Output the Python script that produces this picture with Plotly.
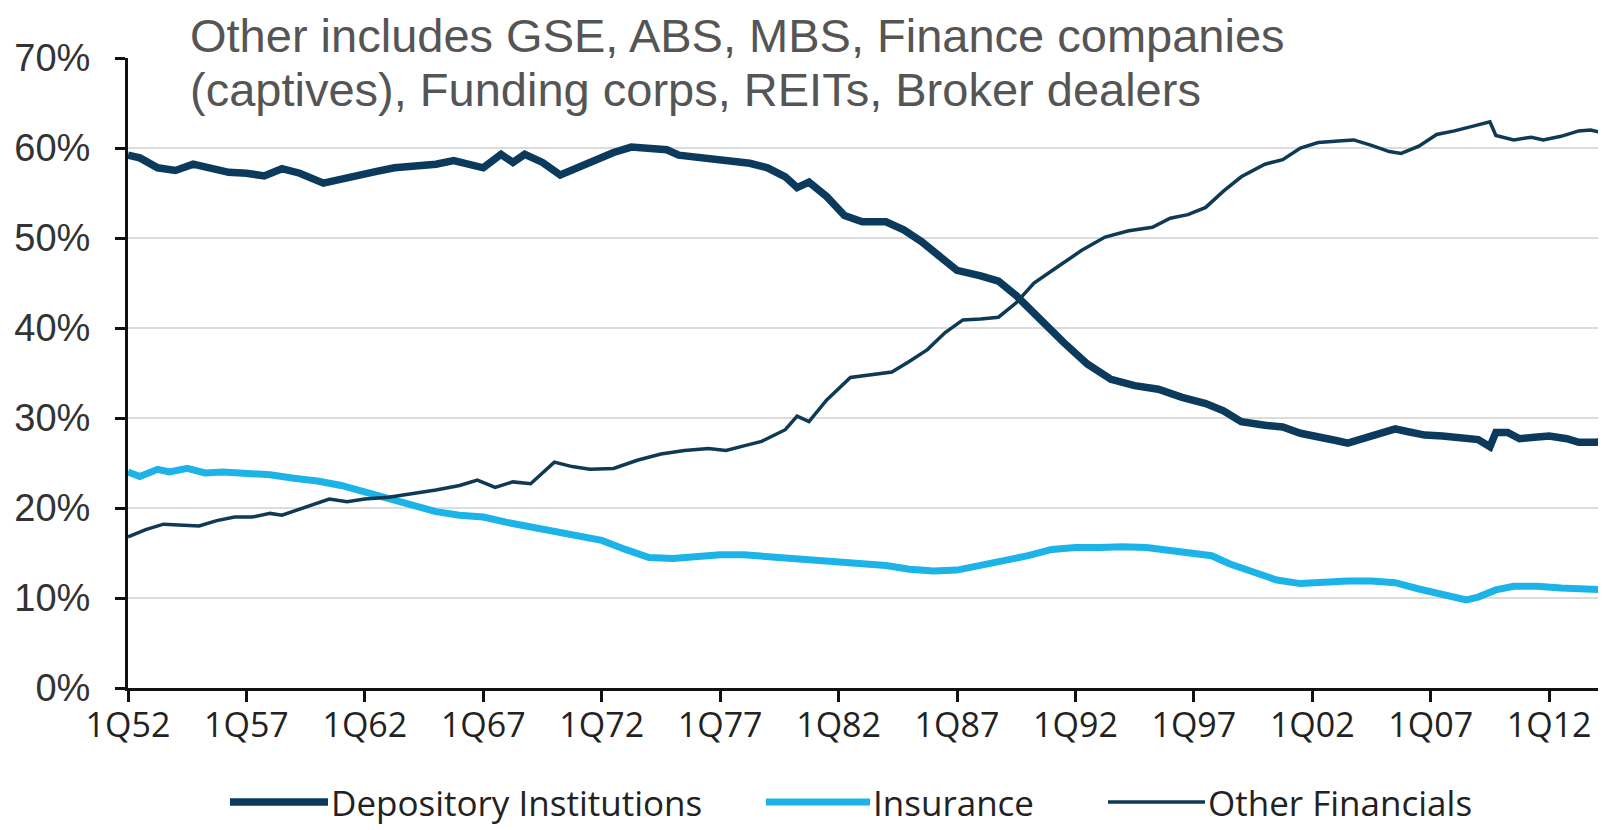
import plotly.graph_objects as go

# ---------------- data ----------------
dep_x = [1952.0, 1952.5, 1953.25, 1954.0, 1954.75, 1955.5, 1956.25, 1957.0, 1957.75, 1958.5,
         1959.25, 1960.25, 1961.0, 1961.75, 1962.5, 1963.25, 1964.25, 1965.0, 1965.75, 1966.5,
         1967.0, 1967.75, 1968.25, 1968.75, 1969.5, 1970.25, 1971.0, 1971.75, 1972.5, 1973.25,
         1974.0, 1974.75, 1975.25, 1976.0, 1976.75, 1977.5, 1978.25, 1979.0, 1979.75, 1980.25,
         1980.75, 1981.5, 1982.25, 1983.0, 1984.0, 1984.75, 1985.5, 1986.25, 1987.0, 1988.0,
         1988.75, 1989.5, 1990.5, 1991.5, 1992.5, 1993.5, 1994.5, 1995.5, 1996.5, 1997.5,
         1998.25, 1999.0, 2000.0, 2000.75, 2001.5, 2002.25, 2003.0, 2003.5, 2004.25, 2005.0,
         2005.5, 2006.0, 2006.75, 2007.5, 2008.25, 2009.0, 2009.5, 2009.75, 2010.25, 2010.75,
         2011.5, 2012.0, 2012.75, 2013.25, 2014.0, 2014.4]
dep_y = [59.2, 58.9, 57.8, 57.5, 58.2, 57.8, 57.3, 57.2, 56.9, 57.7,
         57.2, 56.1, 56.6, 57.1, 57.4, 57.8, 58.0, 58.2, 58.6, 58.0,
         57.8, 59.3, 58.4, 59.3, 58.4, 57.0, 57.8, 58.8, 59.5, 60.1,
         60.0, 59.8, 59.2, 59.0, 58.8, 58.6, 58.3, 57.8, 56.8, 55.6,
         56.2, 54.6, 52.5, 51.8, 51.8, 50.9, 49.6, 48.0, 46.4, 45.8,
         45.2, 43.6, 40.9, 38.4, 36.0, 34.3, 33.6, 33.2, 32.3, 31.6,
         30.8, 29.6, 29.2, 29.0, 28.3, 27.8, 27.5, 27.2, 27.8, 28.2,
         28.8, 28.5, 28.1, 28.0, 27.9, 27.6, 26.8, 28.4, 28.4, 27.7,
         27.9, 28.0, 27.7, 27.3, 27.3, 27.6]

ins_x = [1952.0, 1952.5, 1953.25, 1953.75, 1954.5, 1955.25, 1956.0, 1957.0, 1958.0, 1959.0,
         1960.0, 1961.0, 1962.0, 1963.0, 1964.0, 1965.0, 1966.0, 1967.0, 1968.0, 1969.0,
         1970.0, 1971.0, 1972.0, 1973.0, 1974.0, 1975.0, 1976.0, 1977.0, 1978.0, 1979.0,
         1980.0, 1981.0, 1982.0, 1983.0, 1984.0, 1985.0, 1986.0, 1987.0, 1988.0, 1989.0,
         1990.0, 1991.0, 1992.0, 1993.0, 1994.0, 1995.0, 1996.0, 1997.0, 1997.75, 1998.5,
         1999.5, 2000.5, 2001.5, 2002.5, 2003.5, 2004.5, 2005.5, 2006.5, 2007.5, 2008.5,
         2009.0, 2009.75, 2010.5, 2011.5, 2012.5, 2013.5, 2014.4]
ins_y = [24.0, 23.5, 24.3, 24.0, 24.4, 23.9, 24.0, 23.8, 23.7, 23.3,
         23.0, 22.5, 21.8, 21.0, 20.3, 19.6, 19.2, 19.0, 18.4, 17.9,
         17.5, 17.0, 16.4, 15.4, 14.5, 14.4, 14.6, 14.8, 14.8, 14.6,
         14.4, 14.2, 14.0, 13.9, 13.6, 13.2, 13.0, 13.1, 13.6, 14.1,
         14.7, 15.4, 15.6, 15.6, 15.7, 15.6, 15.3, 15.0, 14.7, 13.8,
         12.8, 12.0, 11.6, 11.8, 11.9, 11.9, 11.7, 11.0, 10.4, 9.8,
         10.1, 10.9, 11.3, 11.3, 11.1, 10.9, 10.9]

oth_x = [1952.0, 1952.75, 1953.5, 1954.25, 1955.0, 1955.75, 1956.5, 1957.25, 1958.0, 1958.5,
         1959.5, 1960.5, 1961.25, 1962.0, 1963.0, 1964.0, 1965.0, 1966.0, 1966.75, 1967.5,
         1968.25, 1969.0, 1970.0, 1970.75, 1971.5, 1972.5, 1973.5, 1974.5, 1975.5, 1976.5,
         1977.25, 1978.0, 1978.75, 1979.75, 1980.25, 1980.75, 1981.5, 1982.5, 1983.5, 1984.25,
         1985.0, 1985.75, 1986.5, 1987.25, 1988.0, 1988.75, 1989.5, 1990.25, 1991.25, 1992.25,
         1993.25, 1994.25, 1995.25, 1996.0, 1996.75, 1997.5, 1998.25, 1999.0, 2000.0, 2000.75,
         2001.5, 2002.25, 2003.25, 2003.75, 2004.5, 2005.25, 2005.75, 2006.5, 2007.25, 2008.0,
         2008.75, 2009.5, 2009.75, 2010.5, 2011.25, 2011.75, 2012.5, 2013.25, 2013.75, 2014.4]
oth_y = [16.8, 17.6, 18.2, 18.1, 18.0, 18.6, 19.0, 19.0, 19.4, 19.2,
         20.1, 21.0, 20.7, 21.0, 21.2, 21.6, 22.0, 22.5, 23.1, 22.3,
         22.9, 22.7, 25.1, 24.6, 24.3, 24.4, 25.3, 26.0, 26.4, 26.6,
         26.4, 26.9, 27.4, 28.7, 30.2, 29.6, 32.0, 34.5, 34.8, 35.1,
         36.3, 37.6, 39.5, 40.9, 41.0, 41.2, 42.8, 45.0, 46.8, 48.6,
         50.1, 50.8, 51.2, 52.2, 52.6, 53.4, 55.2, 56.8, 58.2, 58.7,
         60.0, 60.6, 60.8, 60.9, 60.3, 59.6, 59.4, 60.2, 61.5, 61.9,
         62.4, 62.9, 61.4, 60.9, 61.2, 60.9, 61.3, 61.9, 62.0, 61.6]

tick_years = [1952, 1957, 1962, 1967, 1972, 1977, 1982, 1987, 1992, 1997, 2002, 2007, 2012]
tick_text = ["1Q52", "1Q57", "1Q62", "1Q67", "1Q72", "1Q77", "1Q82", "1Q87", "1Q92",
             "1Q97", "1Q02", "1Q07", "1Q12"]
y_ticks = [0, 10, 20, 30, 40, 50, 60, 70]
y_text = ["0%", "10%", "20%", "30%", "40%", "50%", "60%", "70%"]

series_names = ["Depository Institutions", "Insurance", "Other Financials"]
title_lines = ["Other includes GSE, ABS, MBS, Finance companies",
               "(captives), Funding corps, REITs, Broker dealers"]

# ---------------- styling ----------------
C_DEP = "#0b3a5c"
C_INS = "#1cb3e8"
C_OTH = "#0e3a56"
W_DEP, W_INS, W_OTH = 7.5, 7, 3.5
TICKFONT = "Open Sans, Noto Sans, DejaVu Sans, sans-serif"
ARIAL = "Liberation Sans, Arial, sans-serif"

# page has an 8px body margin: figure is placed at (8, 8)
OFF = 8
FIG_W, FIG_H = 1606 - OFF, 830 - OFF
PLOT_L, PLOT_T, PLOT_B = 128, 58, 688      # page pixel positions of the plot area
L = PLOT_L - OFF
T = PLOT_T - OFF
B = FIG_H - (PLOT_B - OFF)
PW = FIG_W - L
PH = FIG_H - T - B

fig = go.Figure()
fig.add_trace(go.Scatter(x=dep_x, y=dep_y, mode="lines", name=series_names[0],
                         line=dict(color=C_DEP, width=W_DEP), showlegend=False))
fig.add_trace(go.Scatter(x=ins_x, y=ins_y, mode="lines", name=series_names[1],
                         line=dict(color=C_INS, width=W_INS), showlegend=False))
fig.add_trace(go.Scatter(x=oth_x, y=oth_y, mode="lines", name=series_names[2],
                         line=dict(color=C_OTH, width=W_OTH), showlegend=False))

fig.update_layout(
    width=FIG_W, height=FIG_H,
    margin=dict(l=L, r=0, t=T, b=B),
    paper_bgcolor="white", plot_bgcolor="white",
    xaxis=dict(range=[1952, 2014.4], tickmode="array", tickvals=tick_years, ticktext=tick_text,
               showgrid=False, zeroline=False, showline=True, linecolor="#111", linewidth=3,
               ticks="outside", ticklen=11, tickwidth=3, tickcolor="#111",
               ticklabelstandoff=-6,
               tickfont=dict(family=TICKFONT, size=34, color="#222")),
    yaxis=dict(range=[0, 70], tickmode="array", tickvals=y_ticks, ticktext=y_text,
               showgrid=True, gridcolor="#dcdcdc", gridwidth=1.5, zeroline=False,
               showline=True, linecolor="#111", linewidth=3,
               ticks="outside", ticklen=10, tickwidth=3, tickcolor="#111",
               ticklabelstandoff=17,
               tickfont=dict(family=ARIAL, size=38, color="#333")),
)


def px(xp):
    return (xp - OFF - L) / PW


def py(yp):
    return (FIG_H - B - (yp - OFF)) / PH


# title lines
for line, yc in zip(title_lines, [36, 89]):
    fig.add_annotation(text=line, xref="paper", yref="paper", x=px(188), y=py(yc),
                       xanchor="left", yanchor="middle", showarrow=False,
                       font=dict(family=ARIAL, size=47, color="#555"))

# custom legend (line samples + labels)
leg_y = 802
leg_items = [(230, 328, C_DEP, W_DEP), (766, 870, C_INS, W_INS), (1108, 1205, C_OTH, W_OTH)]
for (x0, x1, col, w), name in zip(leg_items, series_names):
    fig.add_shape(type="line", xref="paper", yref="paper", x0=px(x0), x1=px(x1),
                  y0=py(leg_y), y1=py(leg_y), line=dict(color=col, width=w))
    fig.add_annotation(text=name, xref="paper", yref="paper", x=px(x1 + 1), y=py(leg_y),
                       xanchor="left", yanchor="middle", showarrow=False,
                       font=dict(family=TICKFONT, size=35, color="#222"))

fig.write_html("out.html")
